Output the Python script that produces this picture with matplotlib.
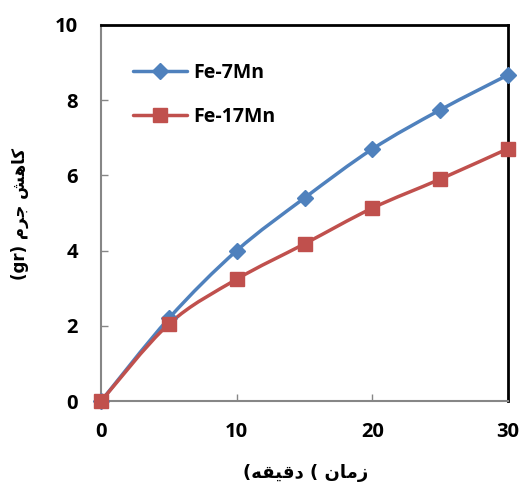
import numpy as np
import matplotlib
matplotlib.use("Agg")
import matplotlib.pyplot as plt
from matplotlib.path import Path
from matplotlib.patches import PathPatch
from matplotlib.lines import Line2D

time_min = [0, 5, 10, 15, 20, 25, 30]
fe7mn = [0, 2.2, 4.0, 5.4, 6.7, 7.74, 8.67]
fe17mn = [0, 2.05, 3.24, 4.18, 5.13, 5.9, 6.71]
series_names = ["Fe-7Mn", "Fe-17Mn"]
x_ticks = [0, 10, 20, 30]
y_ticks = [0, 2, 4, 6, 8, 10]

# Arabic/Persian labels in visual order with presentation forms (no shaping engine in matplotlib)
xlabel_text = "(\uFEEA\uFED8\uFEF4\uFED7\uFEA9 ( \uFEE5\uFE8E\uFEE3\uFEAF"
ylabel_text = "(gr) \uFEE1\uFEAE\uFE9F \uFEB6\uFEEB\uFE8E\uFEDB"

BLUE = "#4F81BD"
RED = "#C0504D"
NUM_FONT = "Open Sans"

fig = plt.figure(figsize=(5.21, 4.88), dpi=100)
ax = fig.add_axes([0.194, 0.178, 0.781, 0.771])


def smooth_path(xs, ys):
    xs = np.asarray(xs, float)
    ys = np.asarray(ys, float)
    n = len(xs)
    verts = [(xs[0], ys[0])]
    codes = [Path.MOVETO]
    for i in range(n - 1):
        p0 = np.array([xs[max(i - 1, 0)], ys[max(i - 1, 0)]])
        p1 = np.array([xs[i], ys[i]])
        p2 = np.array([xs[i + 1], ys[i + 1]])
        p3 = np.array([xs[min(i + 2, n - 1)], ys[min(i + 2, n - 1)]])
        c1 = p1 + (p2 - p0) / 6.0
        c2 = p2 - (p3 - p1) / 6.0
        verts += [tuple(c1), tuple(c2), tuple(p2)]
        codes += [Path.CURVE4] * 3
    return Path(verts, codes)


LW = 2.5
for ys, color, marker, ms in [(fe7mn, BLUE, "D", 8.3), (fe17mn, RED, "s", 9.8)]:
    patch = PathPatch(smooth_path(time_min, ys), facecolor="none", edgecolor=color,
                      lw=LW, zorder=3, clip_on=False, capstyle="round", joinstyle="round")
    ax.add_patch(patch)
    ax.plot(time_min, ys, linestyle="none", marker=marker, ms=ms, color=color,
            mec=color, zorder=4, clip_on=False)

handles = [
    Line2D([], [], color=BLUE, lw=LW, marker="D", ms=8.3, solid_capstyle="round"),
    Line2D([], [], color=RED, lw=LW, marker="s", ms=9.8, solid_capstyle="round"),
]
leg = ax.legend(handles, series_names, loc="upper left", bbox_to_anchor=(0.0786, 0.899),
                frameon=False, borderpad=0, borderaxespad=0,
                handlelength=2.75, handletextpad=0.33, labelspacing=1.25,
                prop={"family": NUM_FONT, "weight": "bold", "size": 14})

ax.set_xlim(0, 30)
ax.set_ylim(0, 10)
ax.set_xticks(x_ticks)
ax.set_yticks(y_ticks)
ax.tick_params(direction="in", length=5, width=1, color="#868686")
ax.tick_params(axis="y", pad=16.5)
ax.tick_params(axis="x", pad=15)
for lab in ax.get_xticklabels() + ax.get_yticklabels():
    lab.set_fontfamily(NUM_FONT)
    lab.set_fontweight("bold")
    lab.set_fontsize(14.5)

for s in ["top", "right"]:
    ax.spines[s].set_color("black")
    ax.spines[s].set_linewidth(2)
for s in ["left", "bottom"]:
    ax.spines[s].set_color("#868686")
    ax.spines[s].set_linewidth(1.5)

fig.text(0.586, 0.031, xlabel_text, ha="center", va="center", fontsize=13,
         fontweight="bold", family=["DejaVu Sans"])
fig.text(0.039, 0.561, ylabel_text, ha="center", va="center", rotation=90, fontsize=12,
         fontweight="bold", family=["DejaVu Sans"])

fig.savefig("out.png", dpi=100)
